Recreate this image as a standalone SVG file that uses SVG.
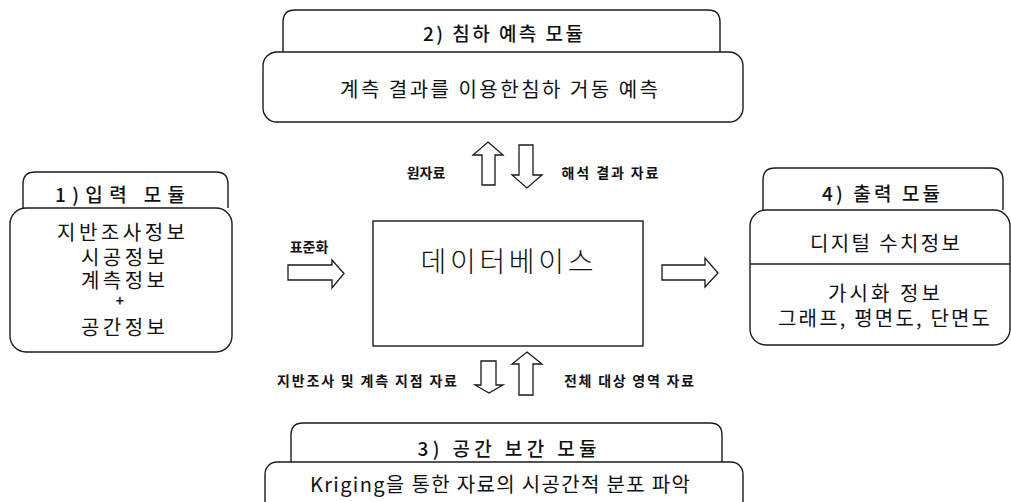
<svg xmlns="http://www.w3.org/2000/svg" width="1011" height="502" viewBox="0 0 1011 502">
<style>
.box{fill:#fff;stroke:#1a1a1a;stroke-width:1.4}
.tab{fill:#fff;stroke:#1a1a1a;stroke-width:1.4}
.t{font-family:"Noto Sans CJK KR","Noto Sans",sans-serif;fill:#111;text-anchor:middle;dominant-baseline:central}
.title{font-size:19px;font-weight:500}
.body{font-size:20px}
.lb{font-size:20px}
.lbl{font-size:14px;font-weight:bold}
.db{font-size:28px;font-weight:300}
.arr{fill:#fff;stroke:#1a1a1a;stroke-width:1.3;stroke-linejoin:miter}
</style>
<rect width="1011" height="502" fill="#fff"/>

<g id="node-predict">
<path class="tab" d="M283,52 V22 Q283,10 295,10 H708 Q720,10 720,22 V52"/>
<rect class="box" x="263" y="52" width="480" height="70" rx="14"/>
<text class="t title" x="503" y="32" textLength="160" lengthAdjust="spacing">2) 침하 예측 모듈</text>
<text class="t body" x="499" y="88" textLength="318" lengthAdjust="spacing">계측 결과를 이용한침하 거동 예측</text>
</g>

<g id="node-input">
<path class="tab" d="M23,208 V184 Q23,172 35,172 H216 Q228,172 228,184 V208"/>
<rect class="box" x="10" y="208" width="222" height="144" rx="16"/>
<text class="t title" x="120" y="193" textLength="130" lengthAdjust="spacing">1)입력  모듈</text>
<text class="t lb" x="121" y="231" textLength="128" lengthAdjust="spacing">지반조사정보</text>
<text class="t lb" x="123" y="256" textLength="84" lengthAdjust="spacing">시공정보</text>
<text class="t lb" x="123" y="279" textLength="84" lengthAdjust="spacing">계측정보</text>
<text class="t lbl" x="120" y="300">+</text>
<text class="t lb" x="123" y="326" textLength="84" lengthAdjust="spacing">공간정보</text>
</g>

<g id="node-db">
<rect class="box" x="373" y="221" width="270" height="125"/>
<text class="t db" x="507" y="260" textLength="173" lengthAdjust="spacing">데이터베이스</text>
</g>

<g id="node-output">
<path class="tab" d="M763,210 V180 Q763,168 775,168 H991 Q1003,168 1003,180 V210"/>
<rect class="box" x="750" y="210" width="260" height="135" rx="16"/>
<line class="box" x1="750" y1="264" x2="1010" y2="264"/>
<text class="t title" x="881" y="192" textLength="118" lengthAdjust="spacing">4) 출력 모듈</text>
<text class="t body" x="885" y="242" textLength="150" lengthAdjust="spacing">디지털 수치정보</text>
<text class="t body" x="884" y="292" textLength="112" lengthAdjust="spacing">가시화 정보</text>
<text class="t body" x="884" y="317" textLength="212" lengthAdjust="spacing">그래프, 평면도, 단면도</text>
</g>

<g id="node-interp">
<path class="tab" d="M291,462 V435 Q291,423 303,423 H710 Q722,423 722,435 V462"/>
<rect class="box" x="265" y="462" width="478" height="60" rx="12"/>
<text class="t title" x="507" y="447" textLength="179" lengthAdjust="spacing">3) 공간 보간 모듈</text>
<text class="t body" x="500" y="483" textLength="380" lengthAdjust="spacing">Kriging을 통한 자료의 시공간적 분포 파악</text>
</g>

<g id="connectors">
<polygon class="arr" points="288,265 332,265 332,260 344,273.5 332,288 332,280 288,280"/>
<polygon class="arr" points="662,265 705,265 705,258 718,273 705,287 705,280 662,280"/>
<polygon class="arr" points="488,142 503,155 495,155 495,185 482,185 482,155 473,155"/>
<polygon class="arr" points="519,145 533,145 533,175 542,175 527,188 512,175 519,175"/>
<polygon class="arr" points="481,361 496,361 496,385 503,385 489,393 475,385 481,385"/>
<polygon class="arr" points="527,352 542,364 533,364 533,395 519,395 519,364 512,364"/>
<text class="t lbl" x="309" y="246">표준화</text>
<text class="t lbl" x="426" y="172">원자료</text>
<text class="t lbl" x="610" y="172" textLength="97" lengthAdjust="spacing">해석 결과 자료</text>
<text class="t lbl" x="367" y="380" textLength="180" lengthAdjust="spacing">지반조사 및 계측 지점 자료</text>
<text class="t lbl" x="629" y="380" textLength="130" lengthAdjust="spacing">전체 대상 영역 자료</text>
</g>
</svg>
